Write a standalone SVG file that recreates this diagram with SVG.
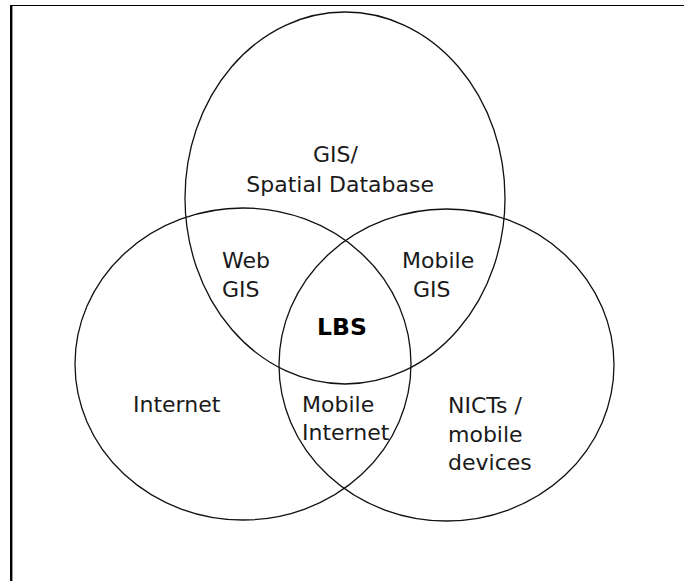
<svg xmlns="http://www.w3.org/2000/svg" width="684" height="581" viewBox="0 0 684 581">
<style>
.c{fill:none;stroke:#111;stroke-width:1.3}
.t{font-family:"DejaVu Sans","Noto Sans",sans-serif;font-size:22px;fill:#1a1a1a}
.b{font-family:"DejaVu Sans","Noto Sans",sans-serif;font-size:23.5px;font-weight:bold;fill:#000}
</style>
<rect width="684" height="581" fill="#fff"/>
<g id="frame">
<line x1="10" y1="5.5" x2="684" y2="5.5" stroke="#000" stroke-width="1.2"/>
<line x1="11.2" y1="5" x2="11.2" y2="581" stroke="#000" stroke-width="2.4"/>
</g>
<g id="connectors"></g>
<g id="gis">
<ellipse class="c" cx="345" cy="198" rx="160" ry="186"/>
<text class="t" x="313" y="162">GIS/</text>
<text class="t" x="434" y="192" text-anchor="end">Spatial Database</text>
</g>
<g id="internet">
<ellipse class="c" cx="243" cy="364" rx="168" ry="156"/>
<text class="t" x="133" y="412">Internet</text>
</g>
<g id="nicts">
<ellipse class="c" cx="446.5" cy="365" rx="167.5" ry="156"/>
<text class="t" x="448" y="413">NICTs /</text>
<text class="t" x="448" y="442">mobile</text>
<text class="t" x="448" y="470">devices</text>
</g>
<g id="webgis">
<text class="t" x="222" y="268">Web</text>
<text class="t" x="222" y="297">GIS</text>
</g>
<g id="mobilegis">
<text class="t" x="402" y="268">Mobile</text>
<text class="t" x="413" y="297">GIS</text>
</g>
<g id="mobileinternet">
<text class="t" x="302" y="412">Mobile</text>
<text class="t" x="302" y="440">Internet</text>
</g>
<g id="lbs">
<text class="b" x="342" y="335" text-anchor="middle">LBS</text>
</g>
</svg>
